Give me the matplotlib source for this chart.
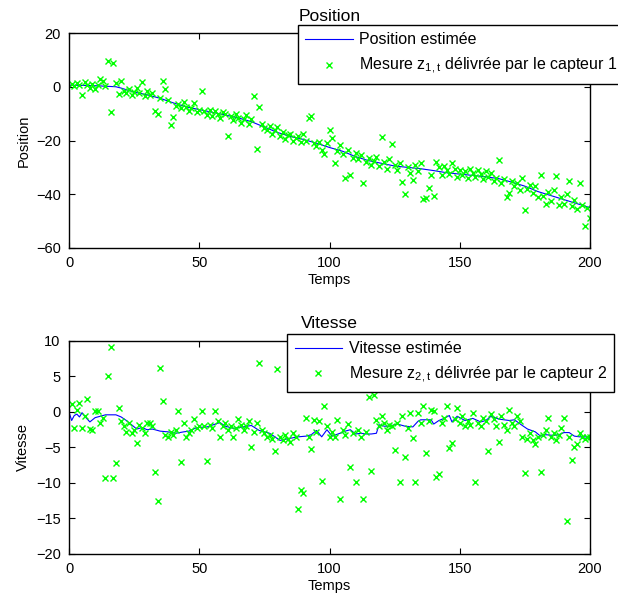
import numpy as np
import matplotlib
matplotlib.use("Agg")
import matplotlib.pyplot as plt

plt.rcParams["font.family"] = ["Liberation Sans", "DejaVu Sans"]
plt.rcParams["mathtext.fontset"] = "custom"
plt.rcParams["mathtext.rm"] = "Liberation Sans"
plt.rcParams["font.size"] = 10.5

# --- data ---
temps = np.arange(1, 201)

pos_t = [0, 10, 18, 20, 25, 30, 35, 40, 45, 50, 55, 60, 65, 70, 75, 80, 85, 90,
         95, 100, 105, 110, 115, 120, 125, 130, 135, 140, 145, 150, 155, 160,
         165, 170, 175, 180, 185, 190, 195, 200]
pos_est = [0.6, 0.4, 0.0, -0.5, -2.0, -3.0, -4.3, -6.0, -7.5, -8.5, -9.5, -10.5,
           -11.6, -13.0, -15.0, -17.0, -18.5, -19.6, -21.0, -22.6, -24.0, -26.0,
           -27.5, -28.5, -29.5, -30.0, -30.5, -31.2, -32.0, -32.5, -33.0, -33.5,
           -34.2, -35.5, -37.0, -39.0, -40.5, -42.0, -43.5, -45.0]

pos_mes = [
    1.0, 0.2, 1.5, 0.5, -3.0, 1.8, 0.8, -0.5, 1.2, -1.0,
    0.8, 2.8, 2.0, 0.2, 9.5, -9.5, 9.0, 1.5, -2.8, 2.3,
    -1.5, -2.5, -1.0, -3.0, -2.0, -0.5, -2.5, 1.6, -3.5, -1.5,
    -3.0, -2.5, -9.1, -10.0, -4.0, 2.3, -0.8, -5.0, -14.1, -11.4,
    -7.0, -6.5, -8.0, -5.5, -7.5, -9.0, -8.0, -6.0, -9.5, -8.5,
    -1.7, -9.0, -10.5, -8.5, -11.0, -9.0, -10.0, -11.5, -9.5, -10.0,
    -18.4, -11.0, -12.5, -10.0, -11.5, -13.5, -12.0, -10.5, -14.0, -12.0,
    -3.3, -23.2, -7.4, -14.0, -15.5, -16.0, -14.5, -17.5, -16.0, -15.0,
    -18.5, -17.0, -19.5, -18.0, -17.5, -20.0, -19.0, -18.5, -20.5, -17.5,
    -20.0, -11.5, -11.0, -21.0, -22.0, -20.5, -23.5, -25.0, -21.0, -16.0,
    -19.0, -28.5, -24.0, -21.5, -25.0, -34.1, -23.5, -32.8, -26.5, -24.5,
    -27.0, -25.5, -35.7, -28.0, -26.5, -29.0, -27.5, -26.0, -29.5, -18.7,
    -28.0, -30.5, -27.0, -21.2, -29.0, -31.0, -28.5, -35.5, -40.0, -30.0,
    -32.2, -34.7, -29.0, -31.5, -28.5, -41.8, -41.5, -37.5, -33.0, -40.6,
    -28.0, -30.0, -33.0, -29.5, -31.0, -32.5, -28.5, -30.5, -33.5, -31.0,
    -33.0, -31.5, -34.0, -30.5, -32.0, -33.5, -31.0, -32.5, -34.5, -31.5,
    -33.5, -32.0, -35.0, -34.0, -27.3, -36.0, -34.5, -40.9, -39.5, -35.0,
    -37.0, -36.0, -38.5, -34.0, -45.9, -38.0, -36.5, -39.5, -37.0, -41.0,
    -32.8, -40.5, -43.5, -39.0, -42.5, -38.5, -33.2, -44.0, -41.0, -43.5,
    -40.0, -35.0, -44.5, -42.0, -45.5, -35.8, -44.0, -52.0, -45.0, -48.8,
]

vit_t = [0, 1, 2, 3, 4, 5, 6, 7, 8, 9, 10, 12, 14, 18, 20, 22, 24, 26, 28, 30,
         32, 35, 38, 41, 44, 46, 49, 53, 57, 58, 60, 63, 67, 70, 73, 77, 81, 85,
         88, 91, 93, 95, 97, 99, 101, 104, 106, 108, 110, 112, 114, 116, 118,
         119, 121, 123, 126, 129, 132, 134, 135, 137, 139, 140, 142, 144, 146,
         147, 149, 152, 155, 158, 160, 162, 165, 169, 171, 174, 176, 179, 181,
         183, 186, 188, 190, 192, 194, 196, 198, 200]
vit_est = [0.0, -1.2, -0.5, -0.3, -0.7, -0.1, -0.6, -1.0, -1.4, -1.1, -0.8, -0.6,
           -0.4, -0.4, -0.7, -1.2, -1.8, -2.4, -2.2, -2.5, -2.4, -2.7, -2.8,
           -3.0, -2.8, -2.7, -2.2, -2.1, -1.6, -1.5, -2.0, -2.3, -2.1, -1.9,
           -2.6, -3.0, -4.0, -3.7, -3.5, -3.4, -3.2, -2.6, -3.5, -2.5, -3.4,
           -3.0, -2.7, -2.5, -3.1, -3.0, -3.1, -3.1, -3.0, -1.8, -2.0, -2.0,
           -1.7, -2.0, -2.1, -1.3, -1.1, -1.1, -1.1, -1.7, -1.2, -0.9, -0.5,
           -1.4, -0.6, -1.2, -0.9, -1.4, -1.2, -0.6, -1.0, -1.2, -1.1, -1.9,
           -2.4, -2.8, -3.4, -3.2, -3.3, -3.2, -2.9, -2.9, -3.4, -3.5, -3.5,
           -3.6]

vit_mes = [
    1.1, -2.2, 0.3, 1.3, -2.2, -0.5, 1.8, -2.4, -2.5, 0.1,
    0.2, -1.5, -0.8, -9.3, 5.0, 9.2, -9.3, -7.2, 0.5, -1.2,
    -2.0, -2.8, -1.5, -3.0, -2.5, -4.4, -1.8, -2.2, -3.0, -1.5,
    -1.6, -2.0, -8.5, -12.5, 6.2, 1.6, -3.2, -3.5, -2.8, -3.3,
    -2.5, 0.2, -7.1, -1.5, -3.5, -3.0, -2.6, -1.0, -2.2, -2.0,
    0.2, -2.0, -6.9, -1.8, -2.2, 0.2, -1.2, -3.5, -2.0, -1.5,
    -2.5, -2.0, -3.5, -2.2, -1.0, -1.8, -2.5, -2.0, -1.2, -5.0,
    -2.8, -1.5, 6.9, -2.5, -3.0, -3.5, -3.2, -3.8, -5.5, 6.1,
    -3.5, -4.0, -3.2, -3.8, -4.2, -3.0, -3.5, -13.6, -11.0, -11.4,
    -0.8, -3.5, -5.2, -1.1, -2.8, -1.2, -9.7, 0.8, -2.0, -3.5,
    -2.8, -3.5, -1.1, -12.2, -2.5, -3.2, -1.7, -7.7, -3.0, -9.9,
    -2.5, -3.5, -12.3, -2.8, 2.1, -8.3, 2.4, -1.1, -2.0, -0.5,
    -1.5, -2.5, -1.8, -2.0, -5.4, -1.5, -9.8, -0.5, -6.3, -2.2,
    -0.1, -3.6, -9.8, -0.2, -1.5, 0.9, -5.8, -1.2, 0.3, 0.2,
    -9.1, -8.8, -1.5, -0.8, 0.9, -5.1, -4.3, -1.0, 0.5, -1.5,
    -0.5, -2.0, -1.2, -1.8, -0.1, -9.9, -1.5, -2.0, -0.8, -1.3,
    -5.5, -0.3, -1.0, -2.0, -4.2, -0.5, -1.8, -2.5, 0.3, -1.5,
    -2.0, -0.5, -1.2, -3.5, -8.6, -3.8, -3.0, -4.0, -4.5, -3.5,
    -8.4, -3.2, -2.5, -0.8, -3.5, -3.0, -4.0, -3.3, -2.2, -0.8,
    -15.4, -3.5, -6.7, -5.0, -4.5, -3.0, -3.5, -3.8, -3.5, -3.5,
]

fig = plt.figure(figsize=(6.18, 5.98), dpi=100)
ax1 = fig.add_axes([0.1117, 0.5853, 0.843, 0.3595])
ax2 = fig.add_axes([0.1117, 0.0736, 0.843, 0.3562])


def style_axes(ax, ylim, yticks, title, ylabel):
    ax.set_xlim(0, 200)
    ax.set_ylim(*ylim)
    ax.set_xticks([0, 50, 100, 150, 200])
    ax.set_yticks(yticks)
    ax.tick_params(direction="in", top=True, right=True, length=4, width=0.8, pad=6)
    for s in ax.spines.values():
        s.set_linewidth(1.0)
    ax.set_title(title, pad=9)
    ax.set_xlabel("Temps", labelpad=2)
    ax.set_ylabel(ylabel, labelpad=4)


def add_legend(ax, x0, y0):
    leg = ax.legend(loc="upper left", bbox_to_anchor=(x0, y0), borderaxespad=0,
                    handlelength=3.0, frameon=True, fancybox=False, framealpha=1,
                    edgecolor="black", borderpad=0.45, labelspacing=0.55,
                    handletextpad=0.4, fontsize=11.5)
    leg.get_frame().set_linewidth(1.0)
    return leg


ax1.plot(pos_t, pos_est, color="#0000ff", lw=0.8, label="Position estimée")
ax1.plot(temps, pos_mes, "x", color="#00ff00", ms=5, mew=1,
         label=r"Mesure z$_{\mathregular{1,t}}$ délivrée par le capteur 1")
style_axes(ax1, (-60, 20), [-60, -40, -20, 0, 20], "Position", "Position")
add_legend(ax1, 0.4395, 1.037)

ax2.plot(vit_t, vit_est, color="#0000ff", lw=0.8, label="Vitesse estimée")
ax2.plot(temps, vit_mes, "x", color="#00ff00", ms=5, mew=1,
         label=r"Mesure z$_{\mathregular{2,t}}$ délivrée par le capteur 2")
style_axes(ax2, (-20, 10), [-20, -15, -10, -5, 0, 5, 10], "Vitesse", "Vitesse")
add_legend(ax2, 0.419, 1.033)

fig.savefig("out.png", dpi=100)
